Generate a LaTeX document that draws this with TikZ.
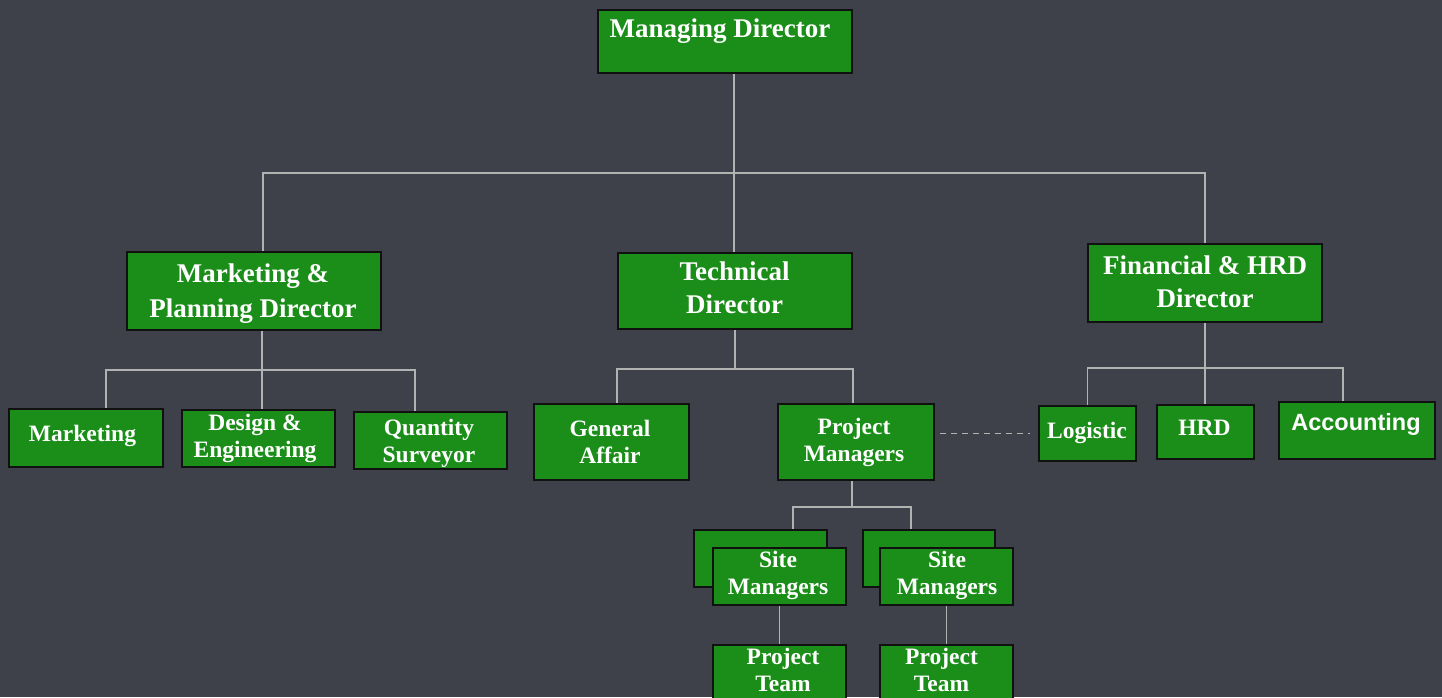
\documentclass[tikz,border=0pt]{standalone}
\usepackage{fontspec}
\setmainfont{Liberation Serif}
\newfontfamily\accfont{Liberation Sans}
\definecolor{bgcol}{RGB}{63,65,74}
\definecolor{boxgreen}{RGB}{26,142,24}
\definecolor{bordercol}{RGB}{17,17,17}
\definecolor{linecol}{RGB}{178,178,178}
\tikzset{
  box/.style={draw=bordercol, line width=2pt, fill=boxgreen, inner sep=0pt},
  txtL/.style={text=white, font=\fontsize{27}{33}\selectfont\bfseries, align=center, inner sep=0pt},
  txtS/.style={text=white, font=\fontsize{23.5}{27}\selectfont\bfseries, align=center, inner sep=0pt},
  conn/.style={draw=linecol, line width=1.5pt},
  dashconn/.style={draw=linecol, line width=1.2pt, dash pattern=on 6pt off 5pt}
}
\begin{document}
\begin{tikzpicture}[x=1pt,y=-1pt]
\useasboundingbox (0,0) rectangle (1442,697);
\clip (0,0) rectangle (1442,697);
\fill[bgcol] (0,0) rectangle (1442,697);

% boxes
\node[box, minimum width=254pt, minimum height=63pt] (md) at (725,41.5) {};
\node[box, minimum width=254pt, minimum height=78pt] (mpd) at (254,291) {};
\node[box, minimum width=234pt, minimum height=76pt] (td) at (735,291) {};
\node[box, minimum width=234pt, minimum height=78pt] (fd) at (1205,283) {};
\node[box, minimum width=154pt, minimum height=58pt] (mk) at (86,438) {};
\node[box, minimum width=153pt, minimum height=57pt] (de) at (258.5,438.5) {};
\node[box, minimum width=153pt, minimum height=57pt] (qs) at (430.5,440.5) {};
\node[box, minimum width=155pt, minimum height=76pt] (ga) at (611.5,442) {};
\node[box, minimum width=156pt, minimum height=76pt] (pm) at (856,442) {};
\node[box, minimum width=97pt, minimum height=55pt] (lg) at (1087.5,433.5) {};
\node[box, minimum width=97pt, minimum height=54pt] (hrd) at (1205.5,432) {};
\node[box, minimum width=156pt, minimum height=57pt] (acc) at (1357,430.5) {};
\node[box, minimum width=133pt, minimum height=57pt] (smb1) at (760.5,558.5) {};
\node[box, minimum width=133pt, minimum height=57pt] (sm1) at (779.5,576.5) {};
\node[box, minimum width=132pt, minimum height=57pt] (smb2) at (929,558.5) {};
\node[box, minimum width=133pt, minimum height=57pt] (sm2) at (946.5,576.5) {};
\node[box, minimum width=133pt, minimum height=74pt] (pt1) at (779.5,682) {};
\node[box, minimum width=133pt, minimum height=74pt] (pt2) at (946.5,682) {};

% texts
\node[txtL] (md-t) at (720,30.8) {Managing Director};
\node[txtL, font=\fontsize{27}{35}\selectfont\bfseries] (mpd-t) at (253,293.3) {Marketing \&\\Planning Director};
\node[txtL] (td-t) at (734.5,287.3) {Technical\\Director};
\node[txtL] (fd-t) at (1205,282.2) {Financial \& HRD\\Director};
\node[txtS] (mk-t) at (82.5,436.3) {Marketing};
\node[txtS] (de-t) at (255,438.5) {Design \&\\Engineering};
\node[txtS] (qs-t) at (429,443.5) {Quantity\\Surveyor};
\node[txtS] (ga-t) at (610,442.3) {General\\Affair};
\node[txtS] (pm-t) at (854,442.6) {Project\\Managers};
\node[txtS] (lg-t) at (1087,432.9) {Logistic};
\node[txtS] (hrd-t) at (1204.5,428.3) {HRD};
\node[txtS, font=\fontsize{23.5}{27}\selectfont\accfont\bfseries] (acc-t) at (1356,424) {Accounting};
\node[txtS] (sm1-t) at (778,575.4) {Site\\Managers};
\node[txtS] (sm2-t) at (947,575.4) {Site\\Managers};
\node[txtS] (pt1-t) at (783,670) {Project\\Team};
\node[txtS] (pt2-t) at (941.5,670) {Project\\Team};

% connectors
\coordinate (j1) at (734,173);
\coordinate (j2) at (262,370);
\coordinate (j3) at (735,369);
\coordinate (j4) at (1205,368);
\coordinate (j5) at (852,507);

\draw[conn] (md.south -| j1) -- (j1);
\draw[conn] (j1) -| ([xshift=9pt]mpd.north);
\draw[conn] (j1) -- (j1 |- td.north);
\draw[conn] (j1) -| (fd.north);

\draw[conn] (mpd.south -| j2) -- (j2);
\draw[conn] (j2) -| ([xshift=20pt]mk.north);
\draw[conn] (j2) -- (j2 |- de.north);
\draw[conn] (j2) -| ([xshift=-15.5pt]qs.north);

\draw[conn] (td.south -| j3) -- (j3);
\draw[conn] (j3) -| ([xshift=5.5pt]ga.north);
\draw[conn] (j3) -| ([xshift=-3pt]pm.north);

\draw[conn] (fd.south -| j4) -- (j4);
\draw[conn] (j4) -| (lg.north);
\draw[conn] (j4) -- (j4 |- hrd.north);
\draw[conn] (j4) -| ([xshift=-14pt]acc.north);

\draw[dashconn] ([xshift=5pt]pm.east |- lg.west) -- ([xshift=-8pt]lg.west);

\draw[conn] (pm.south -| j5) -- (j5);
\draw[conn] (j5) -| ([xshift=32.5pt]smb1.north);
\draw[conn] (j5) -| ([xshift=-18pt]smb2.north);

\draw[conn] (sm1.south) -- (pt1.north);
\draw[conn] (sm2.south) -- (pt2.north);
\end{tikzpicture}
\end{document}
